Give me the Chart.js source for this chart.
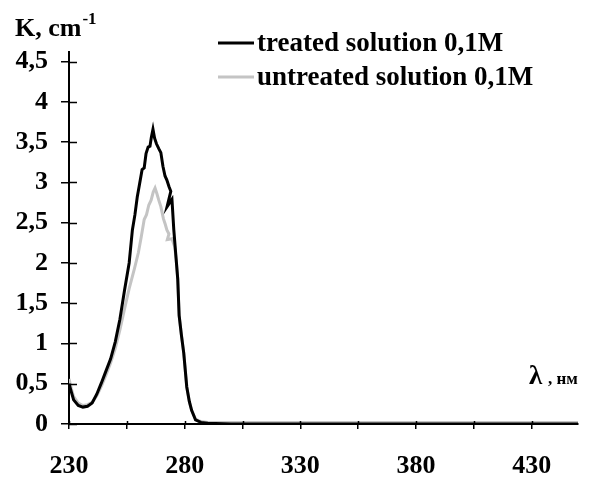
<!DOCTYPE html>
<html>
<head>
<meta charset="utf-8">
<script src="https://cdn.jsdelivr.net/npm/chart.js@4.4.1/dist/chart.umd.min.js"></script>
<style>
  html, body { margin: 0; padding: 0; background: #fff; }
</style>
</head>
<body>
<canvas id="chart" width="605" height="477"></canvas>
<script>
// values (wavelength, nm  /  K, cm-1)
const treatedX = [230, 231, 232, 234, 236, 238, 240, 242, 244, 246, 248, 250, 252, 254, 256, 257.4, 258.5, 259.5, 260.5, 261.6, 262.5, 263.3, 264.2, 265, 265.6, 266.3, 267, 267.8, 268.8, 269.7, 270.6, 271.5, 272.3, 273.2, 274, 272.4, 274.5, 275.3, 276.3, 277, 277.6, 278.6, 279.6, 280.9, 282, 283, 284.7, 287, 290, 300, 450];
const treatedK = [0.50, 0.40, 0.30, 0.23, 0.21, 0.22, 0.26, 0.37, 0.51, 0.66, 0.81, 1.02, 1.30, 1.66, 2.00, 2.41, 2.60, 2.82, 2.98, 3.16, 3.18, 3.36, 3.44, 3.45, 3.56, 3.66, 3.55, 3.48, 3.42, 3.37, 3.20, 3.08, 3.03, 2.95, 2.89, 2.70, 2.79, 2.41, 2.05, 1.80, 1.35, 1.10, 0.88, 0.46, 0.28, 0.17, 0.05, 0.02, 0.01, 0, 0];

const untreatedX = [230, 231, 232, 234, 236, 238, 240, 242, 244, 246, 248, 250, 252, 254, 256, 258.2, 260, 261.2, 262.5, 263.5, 264.5, 265.5, 266.4, 267.2, 268, 268.8, 269.7, 270.8, 271.6, 272.3, 273.2, 272.5, 274.5, 275.7, 276.3, 277, 277.6, 278.6, 279.6, 280.9, 282, 283, 284.7, 287, 290, 320, 360, 400, 450];
const untreatedK = [0.56, 0.44, 0.34, 0.26, 0.23, 0.24, 0.27, 0.35, 0.47, 0.61, 0.76, 0.94, 1.17, 1.43, 1.68, 1.92, 2.13, 2.32, 2.54, 2.60, 2.72, 2.78, 2.88, 2.93, 2.86, 2.78, 2.70, 2.55, 2.48, 2.41, 2.36, 2.29, 2.30, 2.20, 2.05, 1.80, 1.35, 1.10, 0.88, 0.46, 0.28, 0.17, 0.06, 0.03, 0.02, 0.02, 0.02, 0.02, 0.02];

const seriesNames = ['treated solution 0,1M', 'untreated solution 0,1M'];
const xTicks = [230, 255, 280, 305, 330, 355, 380, 405, 430];
const yTicks = [0, 0.5, 1, 1.5, 2, 2.5, 3, 3.5, 4, 4.5];

const FONT = '"Liberation Serif", "Times New Roman", serif';

const toPoints = (xs, ys) => xs.map((x, i) => ({ x: x, y: ys[i] }));

// inner halves of the tick marks, axis titles and the legend
const decorations = {
  id: 'decorations',
  afterDraw(chart) {
    const ctx = chart.ctx;
    const xs = chart.scales.x;
    const ys = chart.scales.y;
    const area = chart.chartArea;
    ctx.save();
    ctx.strokeStyle = '#000';
    ctx.lineWidth = 1.5;
    ctx.beginPath();
    yTicks.forEach(v => {
      const py = Math.round(ys.getPixelForValue(v)) + 0.5;
      ctx.moveTo(area.left, py);
      ctx.lineTo(area.left + 8, py);
    });
    xTicks.forEach(v => {
      const px = Math.round(xs.getPixelForValue(v)) + 0.5;
      ctx.moveTo(px, area.bottom);
      ctx.lineTo(px, area.bottom - 3);
    });
    ctx.stroke();

    ctx.fillStyle = '#000';
    ctx.textBaseline = 'alphabetic';
    ctx.textAlign = 'left';
    ctx.font = 'bold 26px ' + FONT;
    ctx.fillText('K, cm', 15, 36);
    const w = ctx.measureText('K, cm').width;
    ctx.font = 'bold 17px ' + FONT;
    ctx.fillText('-1', 15 + w + 1, 24);

    ctx.font = 'bold 27px ' + FONT;
    ctx.fillText('λ', 529, 384);
    ctx.font = 'bold 17px ' + FONT;
    ctx.fillText(', нм', 548, 384);

    // legend
    const rows = [43, 77];
    chart.data.datasets.forEach((ds, i) => {
      ctx.strokeStyle = ds.borderColor;
      ctx.lineWidth = 3;
      ctx.beginPath();
      ctx.moveTo(218, rows[i]);
      ctx.lineTo(254, rows[i]);
      ctx.stroke();
      ctx.font = 'bold 27px ' + FONT;
      ctx.textBaseline = 'middle';
      ctx.fillStyle = '#000';
      ctx.fillText(ds.label, 257, rows[i] + 1);
    });
    ctx.restore();
  }
};

new Chart(document.getElementById('chart'), {
  type: 'line',
  data: {
    datasets: [
      {
        label: seriesNames[0],
        data: toPoints(treatedX, treatedK),
        borderColor: '#000000',
        borderWidth: 3,
        pointRadius: 0,
        tension: 0,
        fill: false
      },
      {
        label: seriesNames[1],
        data: toPoints(untreatedX, untreatedK),
        borderColor: '#c4c4c4',
        borderWidth: 3,
        pointRadius: 0,
        tension: 0,
        fill: false
      }
    ]
  },
  options: {
    responsive: false,
    animation: false,
    devicePixelRatio: 1,
    layout: { padding: { top: 52, right: 27, left: 0, bottom: 0 } },
    plugins: {
      legend: { display: false },
      tooltip: { enabled: false }
    },
    scales: {
      x: {
        type: 'linear',
        min: 230,
        max: 450,
        afterBuildTicks: s => { s.ticks = xTicks.map(v => ({ value: v })); },
        afterFit: s => { s.height = 53; },
        border: { display: true, color: '#000', width: 2 },
        grid: { drawOnChartArea: false, drawTicks: true, tickLength: 5, color: '#000', lineWidth: 1.5 },
        ticks: {
          padding: 22,
          maxRotation: 0,
          autoSkip: false,
          color: '#000',
          font: { family: FONT, size: 26, weight: 'bold' },
          callback: v => ((v - 230) % 50 === 0 ? String(v) : '')
        }
      },
      y: {
        type: 'linear',
        min: 0,
        max: 4.62,
        afterBuildTicks: s => { s.ticks = yTicks.map(v => ({ value: v })); },
        afterFit: s => { s.width = 69; },
        border: { display: true, color: '#000', width: 2 },
        grid: { drawOnChartArea: false, drawTicks: true, tickLength: 8, color: '#000', lineWidth: 1.5 },
        ticks: {
          padding: 13,
          autoSkip: false,
          color: '#000',
          font: { family: FONT, size: 26, weight: 'bold' },
          callback: v => String(v).replace('.', ',')
        }
      }
    }
  },
  plugins: [decorations]
});
</script>
</body>
</html>
